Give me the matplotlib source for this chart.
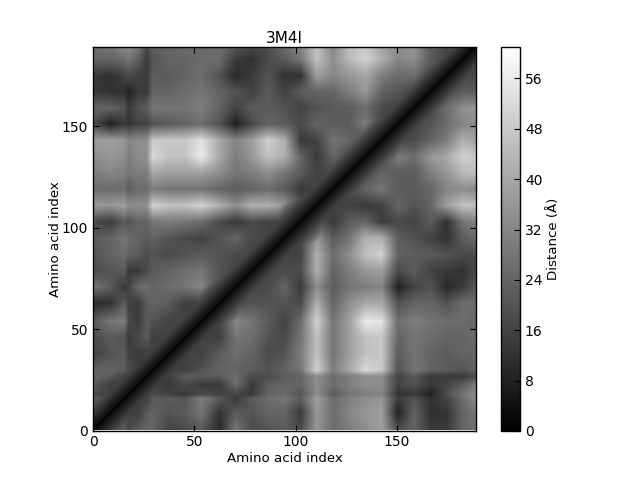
import numpy as np
import matplotlib
matplotlib.use("Agg")
import matplotlib.pyplot as plt

title = "3M4I"
n_residues = 189
vmax = 61
main_ticks = [0, 50, 100, 150]
cbar_ticks = [0, 8, 16, 24, 32, 40, 48, 56]

nodes = [0, 8, 15, 17, 22, 26, 29, 37, 45, 53, 62, 70, 78, 86, 94, 102, 110,
         118, 126, 134, 142, 150, 158, 166, 174, 182, 189]

# Lower triangle of the symmetric distance map, one row per node
rows = [
    [15],
    [17, 15],
    [22, 16, 15],
    [18, 15, 15, 15],
    [22, 15, 15, 15, 15],
    [24, 22, 15, 15, 15, 15],
    [24, 24, 22, 18, 15, 15, 15],
    [16, 20, 22, 16, 14, 15, 16, 15],
    [18, 22, 20, 14, 18, 22, 15, 16, 15],
    [22, 28, 30, 18, 14, 22, 20, 16, 16, 15],
    [10, 12, 22, 16, 14, 22, 24, 22, 15, 16, 15],
    [28, 22, 14, 16, 26, 26, 24, 26, 28, 32, 18, 15],
    [18, 20, 22, 14, 14, 18, 22, 24, 26, 28, 20, 16, 15],
    [20, 24, 26, 24, 22, 18, 20, 18, 20, 22, 20, 18, 16, 15],
    [22, 24, 28, 26, 24, 22, 24, 20, 18, 16, 20, 24, 18, 16, 15],
    [18, 14, 22, 20, 24, 24, 28, 30, 28, 26, 18, 14, 18, 16, 16, 15],
    [36, 36, 38, 34, 34, 34, 50, 46, 46, 50, 42, 34, 42, 42, 36, 20, 15],
    [26, 26, 26, 22, 26, 26, 30, 28, 28, 28, 24, 22, 24, 26, 22, 14, 16, 15],
    [30, 32, 30, 28, 30, 30, 40, 38, 38, 38, 34, 28, 30, 34, 28, 22, 16, 17, 15],
    [34, 36, 34, 30, 34, 34, 52, 46, 46, 56, 40, 30, 36, 46, 42, 24, 14, 24, 18, 15],
    [38, 38, 36, 32, 34, 34, 48, 48, 48, 54, 40, 32, 38, 50, 42, 14, 16, 28, 24, 16, 15],
    [18, 8, 14, 12, 16, 16, 20, 22, 24, 26, 20, 8, 18, 24, 22, 18, 24, 22, 22, 30, 16, 15],
    [24, 24, 20, 14, 20, 22, 28, 28, 28, 30, 24, 16, 22, 22, 20, 16, 20, 22, 22, 26, 18, 16, 15],
    [14, 12, 12, 8, 14, 14, 24, 24, 26, 28, 24, 20, 16, 22, 16, 22, 24, 24, 30, 36, 24, 20, 16, 15],
    [14, 12, 16, 18, 16, 14, 22, 22, 24, 26, 20, 10, 14, 20, 12, 12, 38, 32, 36, 40, 30, 26, 26, 18, 15],
    [24, 24, 26, 28, 22, 14, 20, 24, 24, 26, 26, 14, 12, 18, 22, 28, 46, 34, 44, 50, 42, 32, 34, 22, 16, 15],
    [28, 28, 34, 34, 30, 18, 24, 24, 26, 24, 26, 22, 18, 18, 26, 32, 46, 32, 46, 48, 38, 34, 36, 22, 18, 15, 0],
]

# Distance read along the diagonal band, by sequence separation
band = [0, 3.8, 5.5, 5.5, 7, 9, 10.5, 12, 13.5, 15, 16.5, 18, 20, 22, 24, 27, 30, 34, 38, 42]

m = len(nodes)
grid = np.zeros((m, m))
for r, row in enumerate(rows):
    grid[r, :len(row)] = row
    grid[:len(row), r] = row

idx = np.arange(n_residues)
by_col = np.array([np.interp(idx, nodes, g) for g in grid])
dist = np.array([np.interp(idx, nodes, by_col[:, c]) for c in range(n_residues)])
sep = np.abs(idx[:, None] - idx[None, :])
limit = np.where(sep < len(band), np.take(band, np.minimum(sep, len(band) - 1)), np.inf)
dist = np.minimum(dist, limit)

plt.rcParams.update({
    "font.family": "DejaVu Sans",
    "font.size": 10,
    "xtick.direction": "in",
    "ytick.direction": "in",
    "xtick.top": True,
    "ytick.right": True,
    "xtick.major.size": 4,
    "ytick.major.size": 4,
    "axes.linewidth": 1.0,
})

W, H = 640, 480
fig = plt.figure(figsize=(W / 100, H / 100), dpi=100)
ax = fig.add_axes([93 / W, 1 - 430.5 / H, 383 / W, 383.5 / H])
im = ax.imshow(dist, origin="lower", cmap="gray", vmin=0, vmax=vmax,
               extent=[0, n_residues, 0, n_residues], aspect="auto",
               interpolation="bilinear")
ax.set_xticks(main_ticks)
ax.set_yticks(main_ticks)
ax.tick_params(labelsize=10)
ax.set_xlabel("Amino acid index", fontsize=9.6, labelpad=2)
ax.set_ylabel("Amino acid index", fontsize=9.6, labelpad=0)
ax.set_title(title, fontsize=11, pad=3)

cax = fig.add_axes([501 / W, 1 - 431 / H, 19 / W, 384 / H])
cb = fig.colorbar(im, cax=cax, ticks=cbar_ticks)
cb.ax.tick_params(direction="in", right=True, length=4, labelsize=10, color="black")
cb.set_label("Distance (Å)", fontsize=9.6, labelpad=3)

fig.savefig("out.png", dpi=100)
